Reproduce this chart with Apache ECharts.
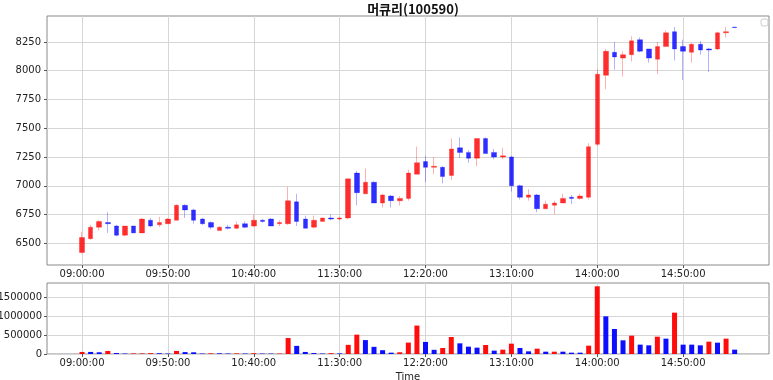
<!DOCTYPE html>
<html><head><meta charset="utf-8">
<script src="https://cdn.jsdelivr.net/npm/echarts@6/dist/echarts.min.js"></script>
<style>html,body{margin:0;padding:0;background:#fff}#c{width:773px;height:380px}</style>
</head><body><div id="c"></div>
<script>
const title = '머큐리(100590)';
const times = ['09:00','09:05','09:10','09:15','09:20','09:25','09:30','09:35','09:40','09:45',
'09:50','09:55','10:00','10:05','10:10','10:15','10:20','10:25','10:30','10:35',
'10:40','10:45','10:50','10:55','11:00','11:05','11:10','11:15','11:20','11:25',
'11:30','11:35','11:40','11:45','11:50','11:55','12:00','12:05','12:10','12:15',
'12:20','12:25','12:30','12:35','12:40','12:45','12:50','12:55','13:00','13:05',
'13:10','13:15','13:20','13:25','13:30','13:35','13:40','13:45','13:50','13:55',
'14:00','14:05','14:10','14:15','14:20','14:25','14:30','14:35','14:40','14:45',
'14:50','14:55','15:00','15:05','15:10','15:15','15:20'];
const open  = [6420,6540,6640,6680,6650,6570,6650,6590,6700,6660,
6670,6700,6830,6790,6710,6680,6610,6640,6630,6670,
6650,6700,6710,6670,6670,6860,6710,6640,6690,6720,
6710,6720,7110,6930,7030,6850,6910,6870,6890,7100,
7210,7160,7160,7090,7330,7290,7240,7410,7290,7250,
7250,7000,6900,6920,6800,6830,6850,6900,6890,6900,
7360,7960,8160,8110,8140,8270,8190,8100,8210,8340,
8210,8160,8230,8190,8190,8330,8380];
const close = [6550,6640,6690,6670,6570,6650,6590,6710,6650,6680,
6710,6830,6790,6700,6670,6640,6640,6630,6660,6640,
6700,6690,6650,6680,6870,6690,6630,6700,6720,6710,
6720,7060,6940,7030,6850,6920,6870,6890,7110,7200,
7160,7170,7080,7320,7290,7240,7410,7280,7250,7260,
7000,6900,6920,6800,6840,6850,6890,6890,6910,7340,
7970,8170,8120,8140,8260,8170,8110,8210,8330,8190,
8170,8230,8180,8180,8330,8340,8375];
const low   = [6410,6530,6610,6590,6560,6560,6590,6590,6640,6640,
6670,6700,6720,6670,6660,6620,6610,6620,6620,6630,
6640,6680,6650,6650,6660,6650,6630,6630,6690,6700,
6700,6710,6830,6930,6850,6810,6810,6830,6870,7100,
7030,7100,7020,7050,7240,7200,7170,7280,7230,7230,
6950,6880,6870,6770,6800,6750,6850,6840,6880,6880,
7350,7840,8010,7950,8080,8160,8070,7970,8210,8090,
7920,8070,8140,7990,8180,8290,8375];
const high  = [6600,6660,6700,6770,6660,6650,6650,6720,6720,6730,
6720,6840,6840,6800,6720,6690,6650,6660,6690,6690,
6750,6710,6720,6700,6990,6930,6740,6740,6720,6750,
6730,7060,7130,7150,7040,6930,6920,6910,7140,7340,
7260,7250,7170,7410,7420,7310,7410,7420,7320,7330,
7260,7010,6970,6930,6870,6870,6930,6920,6930,7370,
8010,8190,8250,8170,8300,8290,8190,8250,8350,8380,
8270,8240,8260,8200,8340,8380,8380];
const volume = [54000,54000,45000,80000,27000,12000,15000,15000,22000,20000,
12000,80000,50000,45000,12000,18000,18000,12000,15000,12000,
20000,10000,10000,12000,420000,214000,54000,25000,12000,22000,
15000,241000,509000,366000,188000,100000,35000,45000,300000,748000,
318000,110000,158000,447000,281000,193000,167000,237000,88000,114000,
272000,158000,70000,140000,61000,61000,61000,35000,35000,219000,
1781000,991000,658000,360000,482000,246000,228000,456000,404000,1088000,
246000,246000,228000,325000,298000,404000,114000];
const volumeUp = [1,0,0,1,0,0,1,1,1,0,
0,1,0,0,0,1,0,0,1,0,
1,0,0,1,1,0,0,0,0,1,
0,1,1,0,0,0,0,1,1,1,
0,0,1,1,0,0,0,1,0,1,
1,0,0,1,0,1,0,0,0,1,
1,0,0,0,1,0,0,1,0,1,
0,0,0,1,0,1,0];
const xTickLabels = ['09:00','09:50','10:40','11:30','12:20','13:10','14:00','14:50'];
const priceTicks = [6500,6750,7000,7250,7500,7750,8000,8250];
const volumeTicks = [0,500000,1000000,1500000];

const toMin = s => { const p = s.split(':'); return (+p[0]) * 60 + (+p[1]); };
const fmtMin = v => { const h = Math.floor(v / 60), m = Math.round(v - h * 60); return String(h).padStart(2,'0') + ':' + String(m).padStart(2,'0') + ':00'; };
const xTicks = xTickLabels.map(toMin);
const xs = times.map(toMin);

const candleData = xs.map((x, i) => [x, open[i], close[i], low[i], high[i]]);
const volData = xs.map((x, i) => ({
  value: [x, volume[i]],
  itemStyle: { color: volumeUp[i] ? 'rgba(255,0,0,0.95)' : 'rgba(0,0,255,0.95)' }
}));

const font = 'DejaVu Sans';
const labelStyle = { color: '#222', fontFamily: font, fontSize: 10 };
const gridLine = { show: true, lineStyle: { color: '#d6d6d6', width: 1 } };
const xMin = 519.6, xMax = 940;

const chart = echarts.init(document.getElementById('c'), null, { renderer: 'canvas' });
chart.setOption({
  animation: false,
  backgroundColor: '#fff',
  title: {
    text: title, left: 408, top: -2, textAlign: 'center',
    textStyle: { fontFamily: 'Noto Sans CJK KR', fontWeight: 'bold', fontSize: 13, color: '#111' }
  },
  graphic: [{ type: 'rect', shape: { x: 761, y: 19, width: 7, height: 7, r: 2 }, style: { fill: '#fff', stroke: '#ccc', lineWidth: 1 } }],
  grid: [
    { left: 47, right: 4, top: 16, height: 249, show: true, borderColor: '#8a8a8a', borderWidth: 1, backgroundColor: 'transparent', outerBoundsMode: 'none', containLabel: false },
    { left: 47, right: 4, top: 283, height: 71, show: true, borderColor: '#8a8a8a', borderWidth: 1, backgroundColor: 'transparent', outerBoundsMode: 'none', containLabel: false }
  ],
  xAxis: [
    { type: 'value', gridIndex: 0, min: xMin, max: xMax,
      axisLine: { show: false },
      axisTick: { show: true, length: 3, customValues: xTicks, lineStyle: { color: '#555' } },
      axisLabel: Object.assign({ customValues: xTicks, formatter: fmtMin, margin: 4 }, labelStyle),
      splitLine: gridLine },
    { type: 'value', gridIndex: 1, min: xMin, max: xMax,
      name: 'Time', nameLocation: 'middle', nameGap: 18,
      nameTextStyle: { color: '#222', fontFamily: font, fontSize: 10 },
      axisLine: { show: false },
      axisTick: { show: true, length: 3, customValues: xTicks, lineStyle: { color: '#555' } },
      axisLabel: Object.assign({ customValues: xTicks, formatter: fmtMin, margin: 4 }, labelStyle),
      splitLine: gridLine }
  ],
  yAxis: [
    { type: 'value', gridIndex: 0, min: 6311, max: 8476, scale: true,
      axisLine: { show: false },
      axisTick: { show: true, length: 3, customValues: priceTicks, lineStyle: { color: '#555' } },
      axisLabel: Object.assign({ customValues: priceTicks, formatter: v => String(v), margin: 6 }, labelStyle),
      splitLine: gridLine },
    { type: 'value', gridIndex: 1, min: 0, max: 1868000,
      axisLine: { show: false },
      axisTick: { show: true, length: 3, customValues: volumeTicks, lineStyle: { color: '#555' } },
      axisLabel: Object.assign({ customValues: volumeTicks, formatter: v => String(v), margin: 5 }, labelStyle),
      splitLine: gridLine }
  ],
  series: [
    { type: 'candlestick', xAxisIndex: 0, yAxisIndex: 0,
      data: candleData, encode: { x: 0, y: [1, 2, 3, 4] },
      barWidth: 5,
      itemStyle: {
        color: 'rgba(255,0,0,0.82)', color0: 'rgba(0,0,255,0.82)',
        borderColor: 'rgba(255,0,0,0.3)', borderColor0: 'rgba(0,0,255,0.3)', borderWidth: 1
      }
    },
    { type: 'bar', xAxisIndex: 1, yAxisIndex: 1, data: volData, barWidth: 5 }
  ]
});
</script></body></html>
